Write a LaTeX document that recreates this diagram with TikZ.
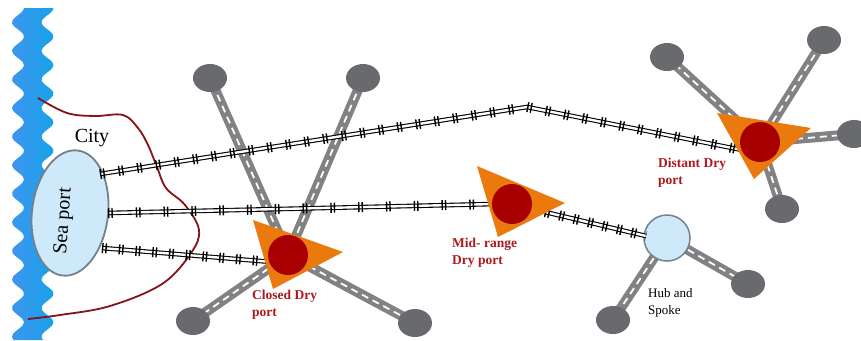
\documentclass[tikz,border=0pt]{standalone}
\usepackage{fontspec}
\setmainfont{Liberation Serif}
\usetikzlibrary{shapes.geometric}
\definecolor{waterl}{RGB}{62,150,238}
\definecolor{waterr}{RGB}{22,162,232}
\definecolor{roadgray}{RGB}{130,130,133}
\definecolor{endgray}{RGB}{105,106,110}
\definecolor{tri}{RGB}{234,122,14}
\definecolor{dotred}{RGB}{168,0,0}
\definecolor{lblred}{RGB}{172,24,30}
\definecolor{portfill}{RGB}{206,234,250}
\definecolor{portline}{RGB}{118,128,138}
\definecolor{cityline}{RGB}{135,18,24}
\begin{document}
\begin{tikzpicture}[x=1pt,y=-1pt,
  road/.style={line width=10pt, draw=roadgray},
  roaddash/.style={line width=1.8pt, draw=white, dash pattern=on 7pt off 5pt},
  endpt/.style={ellipse, fill=endgray, minimum width=34pt, minimum height=28pt, inner sep=0pt},
  rails/.style={draw=black, line width=1.1pt, double=white, double distance=2.4pt},
  ties/.style={draw=black, line width=10pt, dash pattern=on 1.4pt off 2pt on 1.4pt off #1},
  tribox/.style={fill=tri},
  hubdot/.style={circle, fill=dotred, minimum size=40pt, inner sep=0pt},
  lbl/.style={text=lblred, font=\bfseries\fontsize{13.5}{17}\selectfont, align=left, anchor=north west, inner sep=0pt},
  big/.style={font=\fontsize{20}{22}\selectfont, inner sep=0pt}]
\useasboundingbox (0,0) rectangle (861,340);
% water
\shade[left color=waterl, right color=waterr] plot[variable=\t, domain=8:340, samples=111, smooth] ({18+6*cos(12.6*(\t-8))},{\t})
  -- plot[variable=\t, domain=340:8, samples=111, smooth] ({47.5+6*cos(12.6*(\t-8))},{\t}) -- cycle;
% city boundary
\draw[cityline, line width=1.8pt] plot[smooth, tension=0.6] coordinates {(38,98) (67,113) (95,116) (123,115) (138,128) (148,145) (157,167) (166,188) (185,205) (199,230) (191,253) (162,284) (110,306) (60,315) (28,319)};
% centres
\coordinate (cc) at (288,255);
\coordinate (mc) at (512,204);
\coordinate (dc) at (760,142);
\coordinate (hc) at (667,238);
\coordinate (e1) at (210,78);
\coordinate (e2) at (363,78);
\coordinate (e3) at (193,321);
\coordinate (e4) at (415,323);
\coordinate (e5) at (667,57);
\coordinate (e6) at (824,40);
\coordinate (e7) at (854,134);
\coordinate (e8) at (782,209);
\coordinate (e9) at (613,320);
\coordinate (e10) at (748,284);
% roads
\foreach \a/\b in {cc/e1,cc/e2,cc/e3,cc/e4,dc/e5,dc/e6,dc/e7,dc/e8,hc/e9,hc/e10}{
  \draw[road] (\a) -- (\b);
  \draw[roaddash] (\a) -- (\b);
}
\foreach \e in {e1,e2,e3,e4,e5,e6,e7,e8,e9,e10}{
  \node[endpt] (n\e) at (\e) {};
}
% sea port
\node[ellipse, fill=portfill, draw=portline, line width=1.8pt, minimum width=76pt, minimum height=126pt, rotate=-7] (sea) at (70,213) {};
\node[big, rotate=86] (seatxt) at (64,221) {Sea port};
\node[big] (city) at (92,138) {City};
% hub
\node[circle, fill=portfill, draw=portline, line width=1.5pt, minimum size=46pt, inner sep=0pt] (hub) at (hc) {};
% railway endpoints
\coordinate (r1a) at (100,174);
\coordinate (r1b) at (527,107);
\coordinate (r1c) at (742,150);
\coordinate (r2a) at (108,213);
\coordinate (r2b) at (495,204);
\coordinate (r3a) at (102,248);
\coordinate (r3b) at (272,262);
\coordinate (r4a) at (545,212);
\coordinate (r4b) at (646,236);
\draw[rails] (r1a) -- (r1b) -- (r1c);
\draw[ties=14pt] (r1a) -- (r1b) -- (r1c);
\draw[rails] (r2a) -- (r2b);
\draw[ties=23pt] (r2a) -- (r2b);
\draw[rails] (r3a) -- (r3b);
\draw[ties=12pt] (r3a) -- (r3b);
\draw[rails] (r4a) -- (r4b);
\draw[ties=10pt] (r4a) -- (r4b);
% dry ports
\fill[tribox] (253,220) -- (343,252) -- (273,289) -- cycle;
\node[hubdot] (closed) at (cc) {};
\fill[tribox] (477,166) -- (565,203) -- (498,237) -- cycle;
\node[hubdot] (mid) at (mc) {};
\fill[tribox] (717,113) -- (811,128) -- (754,179) -- cycle;
\node[hubdot] (distant) at (dc) {};
% labels
\node[lbl] (lc) at (252,290) {Closed Dry\\port};
\node[lbl] (lm) at (452,238) {Mid- range\\Dry port};
\node[lbl] (ld) at (658,158) {Distant Dry\\port};
\node[anchor=north west, inner sep=0pt, align=left, font=\fontsize{13}{17}\selectfont] (lh) at (648,288) {Hub and\\Spoke};
\end{tikzpicture}
\end{document}
